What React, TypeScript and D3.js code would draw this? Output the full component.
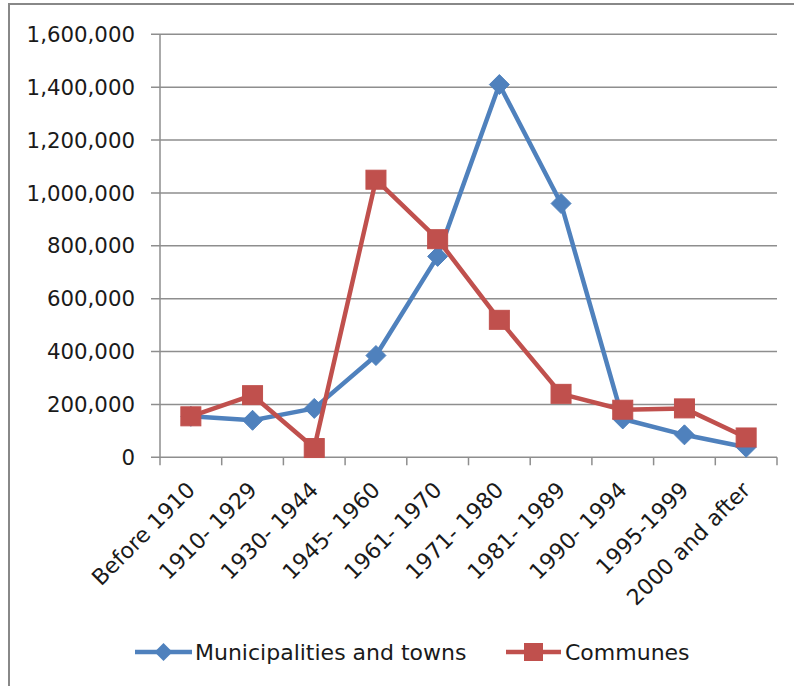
import React from "react";
import * as d3 from "d3";

// Dwellings by period of construction
const categories: string[] = [
  "Before 1910",
  "1910- 1929",
  "1930- 1944",
  "1945- 1960",
  "1961- 1970",
  "1971- 1980",
  "1981- 1989",
  "1990- 1994",
  "1995-1999",
  "2000 and after",
];

const municipalitiesAndTowns: number[] = [
  155000, 140000, 185000, 385000, 760000, 1410000, 960000, 145000, 85000, 38000,
];

const communes: number[] = [
  155000, 235000, 35000, 1050000, 825000, 520000, 240000, 180000, 185000, 75000,
];

const yTicks: number[] = [0, 200000, 400000, 600000, 800000, 1000000, 1200000, 1400000, 1600000];

const seriesNames: string[] = ["Municipalities and towns", "Communes"];

const W = 794;
const H = 686;
const FONT = "'DejaVu Sans', sans-serif";
const FS_Y = 21.3;
const FS_X = 22;
const FS_LEGEND = 22;
const BLUE = "#4F81BD";
const RED = "#C0504D";
const GRID = "#8e8e8e";
const INK = "#1a1a1a";

export default function App() {
  const plotLeft = 160;
  const plotRight = 777;
  const plotTop = 34.3;
  const plotBottom = 457.3;

  const x = d3.scaleBand<string>().domain(categories).range([plotLeft, plotRight]).padding(0);
  const y = d3.scaleLinear().domain([0, 1600000]).range([plotBottom, plotTop]);
  const cx = (c: string) => (x(c) as number) + x.bandwidth() / 2;
  const fmt = d3.format(",");

  const line = d3
    .line<number>()
    .x((_, i) => cx(categories[i]))
    .y((d) => y(d));

  const diamond = (px: number, py: number, r: number) =>
    `M${px},${py - r}L${px + r},${py}L${px},${py + r}L${px - r},${py}Z`;

  const boundaries = [...categories.map((c) => x(c) as number), plotRight];

  return (
    <svg
      width={W}
      height={H}
      style={{ position: "absolute", left: 0, top: 0, background: "#fff" }}
      fontFamily={FONT}
    >
      {/* chart frame */}
      <rect x={9} y={4} width={W + 20} height={H + 20} fill="#fff" stroke="#888" strokeWidth={2} />

      {/* horizontal gridlines with left tick marks */}
      {yTicks.map((t) => (
        <line key={"g" + t} x1={plotLeft - 9} x2={plotRight} y1={y(t)} y2={y(t)} stroke={GRID} strokeWidth={1.5} />
      ))}
      {/* y axis */}
      <line x1={plotLeft} x2={plotLeft} y1={plotTop} y2={plotBottom} stroke={GRID} strokeWidth={1.5} />
      {/* x axis tick marks */}
      {boundaries.map((bx, i) => (
        <line key={"xt" + i} x1={bx} x2={bx} y1={plotBottom} y2={plotBottom + 8} stroke={GRID} strokeWidth={1.5} />
      ))}

      {/* y tick labels */}
      {yTicks.map((t) => (
        <text key={"yl" + t} x={135} y={y(t)} dy="0.36em" textAnchor="end" fontSize={FS_Y} fill={INK}>
          {fmt(t)}
        </text>
      ))}

      {/* x tick labels */}
      {categories.map((c) => (
        <text
          key={"xl" + c}
          transform={`translate(${cx(c) + 5.5},${plotBottom + 34}) rotate(-45)`}
          textAnchor="end"
          fontSize={FS_X}
          fill={INK}
        >
          {c}
        </text>
      ))}

      {/* Municipalities and towns */}
      <path d={line(municipalitiesAndTowns) as string} fill="none" stroke={BLUE} strokeWidth={4.5} strokeLinejoin="round" />
      {municipalitiesAndTowns.map((v, i) => (
        <path key={"m" + i} d={diamond(cx(categories[i]), y(v), 10)} fill={BLUE} stroke={BLUE} strokeWidth={1} />
      ))}

      {/* Communes */}
      <path d={line(communes) as string} fill="none" stroke={RED} strokeWidth={4.5} strokeLinejoin="round" />
      {communes.map((v, i) => (
        <rect
          key={"c" + i}
          x={cx(categories[i]) - 10}
          y={y(v) - 9.5}
          width={20}
          height={19}
          fill={RED}
          stroke={RED}
          strokeWidth={1}
        />
      ))}

      {/* legend */}
      <g>
        <line x1={135} x2={192} y1={652} y2={652} stroke={BLUE} strokeWidth={4.5} />
        <path d={diamond(163.5, 652, 9)} fill={BLUE} />
        <text x={195} y={652} dy="0.36em" fontSize={FS_LEGEND} fill={INK}>
          {seriesNames[0]}
        </text>
        <line x1={506} x2={561} y1={652} y2={652} stroke={RED} strokeWidth={4.5} />
        <rect x={524} y={643} width={19} height={18} fill={RED} />
        <text x={565} y={652} dy="0.36em" fontSize={FS_LEGEND} fill={INK}>
          {seriesNames[1]}
        </text>
      </g>
    </svg>
  );
}
